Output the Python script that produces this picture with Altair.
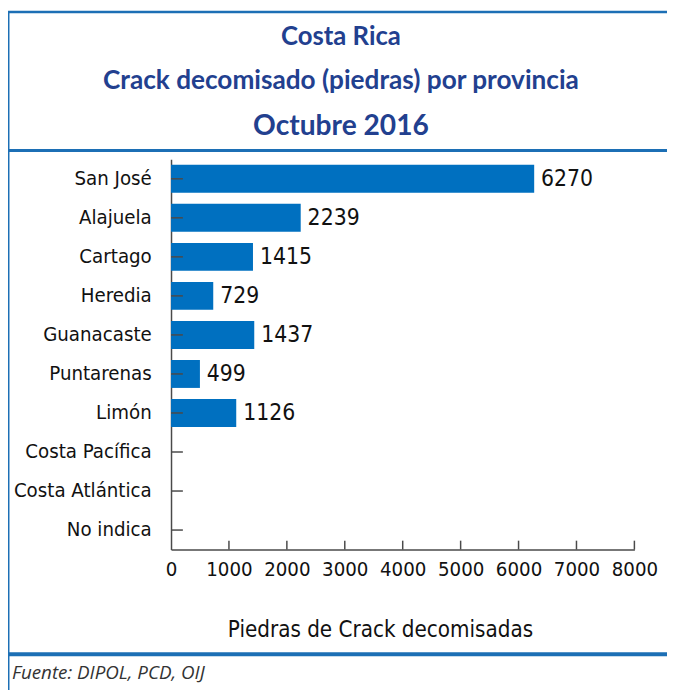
import altair as alt
import pandas as pd

categories = ["San José", "Alajuela", "Cartago", "Heredia", "Guanacaste",
              "Puntarenas", "Limón", "Costa Pacífica", "Costa Atlántica", "No indica"]
values = [6270, 2239, 1415, 729, 1437, 499, 1126, None, None, None]
x_ticks = [0, 1000, 2000, 3000, 4000, 5000, 6000, 7000, 8000]
title_lines = ["Costa Rica", "Crack decomisado (piedras) por provincia", "Octubre 2016"]
x_title = "Piedras de Crack decomisadas"
source_note = "Fuente: DIPOL, PCD, OIJ"

W, H = 469, 395
NARROW = "Liberation Sans Narrow, DejaVu Sans Condensed, Roboto, sans-serif"
TITLE_FONT = "Lato, Open Sans, sans-serif"
BAR_BLUE = "#0070C0"
TITLE_BLUE = "#22408F"
LINE_BLUE = "#1C6FB5"
AXIS_GREY = "#4a4a4a"

df = pd.DataFrame({"provincia": categories, "piedras": values})
one = alt.Data(values=[{}])

y_enc = alt.Y("provincia:N", sort=categories,
              scale=alt.Scale(domain=categories, paddingInner=0.284, paddingOuter=0.142),
              axis=alt.Axis(title=None, ticks=False, domain=True, domainColor=AXIS_GREY,
                            domainWidth=1.5, labelFont=NARROW, labelFontSize=20.5,
                            labelColor="#111111", labelPadding=20, labelLimit=300))
x_enc = alt.X("piedras:Q", scale=alt.Scale(domain=[0, 8000], nice=False),
              axis=alt.Axis(values=x_ticks, format="d", title=None, ticks=False, grid=False,
                            domainColor=AXIS_GREY, domainWidth=1.5, labelFont=NARROW,
                            labelFontSize=20.5, labelPadding=10, labelColor="#111111",
                            labelFlush=False))

bars = alt.Chart(df).mark_bar(color=BAR_BLUE).encode(x=x_enc, y=y_enc)

labels = alt.Chart(df).transform_filter("datum.piedras > 0").mark_text(
    align="left", baseline="middle", dx=7, font=NARROW, fontSize=23, color="#111111"
).encode(x=x_enc, y=alt.Y("provincia:N", sort=categories, bandPosition=0.5),
         text=alt.Text("piedras:Q", format="d"))

yticks = alt.Chart(pd.DataFrame({"provincia": categories})).mark_rule(
    color=AXIS_GREY, strokeWidth=1.5
).encode(y=alt.Y("provincia:N", sort=categories, bandPosition=0.5),
         x=alt.value(0), x2=alt.value(12))

xticks = alt.Chart(pd.DataFrame({"piedras": x_ticks[1:]})).mark_rule(
    color=AXIS_GREY, strokeWidth=1.5
).encode(x=x_enc, y=alt.value(H - 9), y2=alt.value(H))


def txt(s, x, y, **kw):
    return alt.Chart(one).mark_text(**kw).encode(
        x=alt.value(x), y=alt.value(y), text=alt.value(s))


def line(x, x2, y, y2, w):
    return alt.Chart(one).mark_rule(color=LINE_BLUE, strokeWidth=w).encode(
        x=alt.value(x), x2=alt.value(x2), y=alt.value(y), y2=alt.value(y2))


texts = [
    txt(title_lines[0], 172, -124, font=TITLE_FONT, fontSize=26, fontWeight="bold",
        color=TITLE_BLUE, align="center", baseline="middle"),
    txt(title_lines[1], 172, -79, font=TITLE_FONT, fontSize=26.5, fontWeight="bold",
        color=TITLE_BLUE, align="center", baseline="middle"),
    txt(title_lines[2], 172, -34, font=TITLE_FONT, fontSize=28.5, fontWeight="bold",
        color=TITLE_BLUE, align="center", baseline="middle"),
    txt(x_title, 212, 476, font=NARROW, fontSize=22.5, color="#111111",
        align="center", baseline="middle"),
    txt(source_note, -161, 520, font="Open Sans, sans-serif", fontSize=19,
        fontStyle="italic", color="#333333", align="left", baseline="middle"),
]

borders = [
    line(-166, 520, -149, -149, 2.5),
    line(-166, 520, -9, -9, 3),
    line(-166, 520, 501, 501, 4),
    line(-165, -165, -150, 540, 3),
]

chart = alt.layer(*borders, bars, labels, yticks, xticks, *texts).properties(
    width=W, height=H,
    autosize=alt.AutoSizeParams(type="none"),
    padding={"left": 165, "top": 149, "right": 33, "bottom": 138},
    background="white",
).configure_view(stroke=None)

chart.save("out.html", embed_options={"renderer": "svg", "actions": False})
